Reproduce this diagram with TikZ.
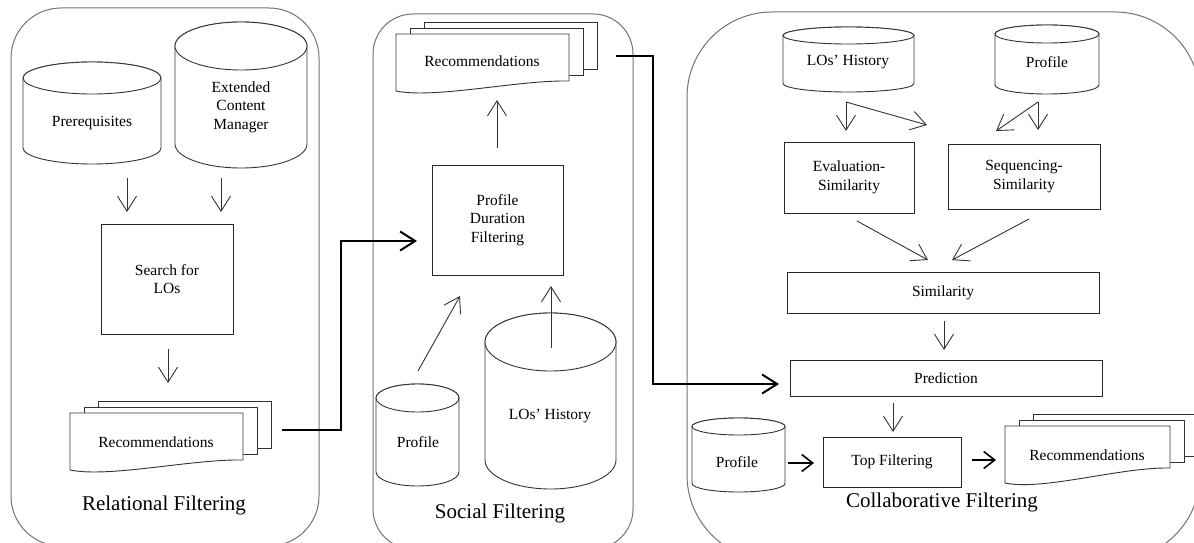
\documentclass[tikz,border=0pt]{standalone}
\usepackage{fontspec}
\setmainfont{Liberation Serif}
\usetikzlibrary{arrows.meta}
\newcommand{\lblfont}{\fontsize{15.5}{18.5}\selectfont}
\newcommand{\ttlfont}{\fontsize{21}{24}\selectfont}
\tikzset{
  panel/.style={draw=black!55, line width=1pt},
  box/.style={draw=black!85, line width=0.9pt, fill=white, inner sep=0pt, align=center, font=\lblfont},
  cyl/.style={draw=black!80, line width=0.9pt, fill=white},
  doc/.style={draw=black!80, line width=0.9pt, fill=white},
  lbl/.style={inner sep=0pt, align=center, font=\lblfont},
  ttl/.style={inner sep=0pt, font=\ttlfont},
  tarrow/.style={draw=black!80, line width=0.9pt, -{Straight Barb[length=15pt,width=19pt]}},
  marrow/.style={draw=black, line width=1.6pt, -{Straight Barb[length=11pt,width=17pt]}},
  karrow/.style={draw=black, line width=2pt, line join=miter, -{Straight Barb[length=15pt,width=19pt]}},
}
% cylinder: left, top, right, bottom, ry
\newcommand{\dbcyl}[5]{%
  \pgfmathsetmacro{\cxr}{(#3-#1)/2}%
  \pgfmathsetmacro{\ccx}{(#1+#3)/2}%
  \draw[cyl] (#1,{#2+#5}) -- (#1,{#4-#5}) arc[start angle=180,end angle=360,x radius=\cxr pt,y radius=#5pt] -- (#3,{#2+#5}) arc[start angle=0,end angle=180,x radius=\cxr pt,y radius=#5pt] -- cycle;
  \draw[cyl] (\ccx,{#2+#5}) ellipse[x radius=\cxr pt,y radius=#5pt];
}
% multi document: left, top, right, bottom-left, bottom-right
\newcommand{\multidoc}[5]{%
  \draw[doc] ({#1+28},{#2-12}) rectangle ({#3+28},{#5-12});
  \draw[doc] ({#1+14},{#2-6}) rectangle ({#3+14},{#5-6});
  \draw[doc] (#1,#2) -- (#3,#2) -- (#3,#5) .. controls ({#1+0.7*(#3-#1)},{#5-1}) and ({#1+0.23*(#3-#1)},{#4+8}) .. (#1,#4) -- cycle;
}
\begin{document}
\begin{tikzpicture}[x=1pt,y=-1pt]
\useasboundingbox (0,0) rectangle (1194,543);
\clip (0,0) rectangle (1194,543);
% panels
\draw[panel, rounded corners=50pt] (11,8) rectangle (319,546);
\draw[panel, rounded corners=40pt] (373,14) rectangle (633,549);
\draw[panel, rounded corners=85pt] (687,12) rectangle (1200,560);

% ---------- Relational Filtering ----------
\dbcyl{23}{62}{161}{164}{16}
\node[lbl] (prereq) at (92,123) {Prerequisites};
\dbcyl{175}{22}{307}{168}{24}
\node[lbl] (ecm) at (241,107) {Extended\\Content\\Manager};
\coordinate (p1a) at (127,178); \coordinate (p1b) at (127,212);
\coordinate (e1a) at (221,178); \coordinate (e1b) at (221,212);
\draw[tarrow] (p1a) -- (p1b);
\draw[tarrow] (e1a) -- (e1b);
\node[box, minimum width=132pt, minimum height=110pt] (search) at (167,279) {Search for\\LOs};
\coordinate (s1a) at (168,349); \coordinate (s1b) at (168,383);
\draw[tarrow] (s1a) -- (s1b);
\multidoc{70}{413}{243}{470}{460}
\node[lbl] (rec1) at (156,442) {Recommendations};
\node[ttl] (t1) at (164,505) {Relational Filtering};

% ---------- Social Filtering ----------
\multidoc{396}{34}{569}{91}{81}
\node[lbl] (rec2) at (482,61) {Recommendations};
\node[box, minimum width=131pt, minimum height=110pt] (pdf) at (497.5,220) {Profile\\Duration\\Filtering};
\dbcyl{376}{384}{459}{486}{14}
\node[lbl] (prof2) at (418,442) {Profile};
\dbcyl{485}{313}{616}{489}{29}
\node[lbl] (hist2) at (550,416) {LOs’ History};
\coordinate (q1a) at (497,148); \coordinate (q1b) at (497,100);
\coordinate (q2a) at (418,371); \coordinate (q2b) at (460,296);
\coordinate (q3a) at (551,348); \coordinate (q3b) at (551,286);
\draw[tarrow] (q1a) -- (q1b);
\draw[tarrow] (q2a) -- (q2b);
\draw[tarrow] (q3a) -- (q3b);
\node[ttl] (t2) at (500,513) {Social Filtering};

% ---------- Collaborative Filtering ----------
\dbcyl{783}{27}{914}{92}{8.5}
\node[lbl] (hist3) at (848,62) {LOs’ History};
\dbcyl{995}{25}{1099}{94}{9}
\node[lbl] (prof3) at (1047,62) {Profile};
\coordinate (h3) at (846,102); \coordinate (h3a) at (846,131); \coordinate (h3b) at (927,125);
\coordinate (r3) at (1038,102); \coordinate (r3a) at (1038,130); \coordinate (r3b) at (996,131);
\draw[tarrow] (h3) -- (h3a);
\draw[tarrow] (h3) -- (h3b);
\draw[tarrow] (r3) -- (r3a);
\draw[tarrow] (r3) -- (r3b);
\node[box, minimum width=130pt, minimum height=71pt] (evs) at (849,177.5) {Evaluation-\\Similarity};
\node[box, minimum width=152pt, minimum height=65pt] (seqs) at (1024,176.5) {Sequencing-\\Similarity};
\coordinate (v1a) at (857,221); \coordinate (v1b) at (928,260);
\coordinate (v2a) at (1029,219); \coordinate (v2b) at (952,260);
\draw[tarrow] (v1a) -- (v1b);
\draw[tarrow] (v2a) -- (v2b);
\node[box, minimum width=312pt, minimum height=41pt] (sim) at (943,292.5) {Similarity};
\coordinate (w1a) at (944,321); \coordinate (w1b) at (944,350);
\draw[tarrow] (w1a) -- (w1b);
\node[box, minimum width=312pt, minimum height=36pt] (pred) at (946,378) {Prediction};
\coordinate (w2a) at (893,403); \coordinate (w2b) at (893,432);
\draw[tarrow] (w2a) -- (w2b);
\dbcyl{692}{418}{785}{492}{8.5}
\node[lbl] (prof4) at (737,462) {Profile};
\node[box, minimum width=138pt, minimum height=50pt] (top) at (892,462) {Top Filtering};
\coordinate (m1a) at (788,463); \coordinate (m1b) at (814,463);
\coordinate (m2a) at (972,460); \coordinate (m2b) at (996,460);
\draw[marrow] (m1a) -- (m1b);
\draw[marrow] (m2a) -- (m2b);
\multidoc{1005}{426}{1170}{483}{468}
\node[lbl] (rec3) at (1087,455) {Recommendations};
\node[ttl] (t3) at (942,502) {Collaborative Filtering};

% ---------- connectors between panels ----------
\coordinate (k1a) at (282,430); \coordinate (k1b) at (341,430); \coordinate (k1c) at (341,241); \coordinate (k1d) at (417,241);
\draw[karrow] (k1a) -- (k1b) -- (k1c) -- (k1d);
\coordinate (k2a) at (616,56); \coordinate (k2b) at (653,56); \coordinate (k2c) at (653,384); \coordinate (k2d) at (779,384);
\draw[karrow] (k2a) -- (k2b) -- (k2c) -- (k2d);
\end{tikzpicture}
\end{document}
